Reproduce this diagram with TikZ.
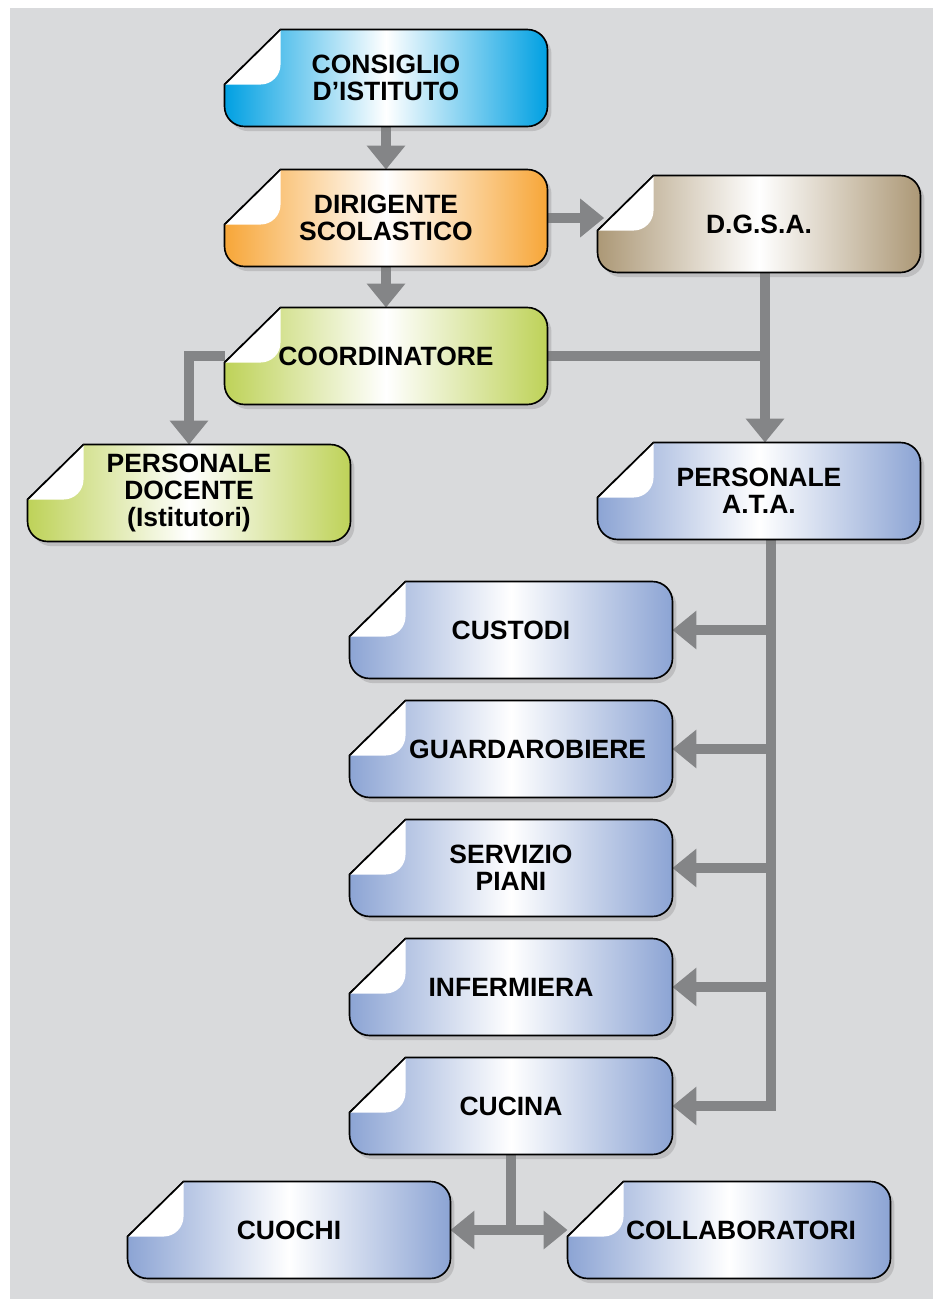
\documentclass[tikz,border=0pt]{standalone}
\usepackage{fontspec}
\setmainfont{Liberation Sans}
\usetikzlibrary{arrows.meta,calc,positioning,shadows}
\definecolor{orgblue}{RGB}{0,160,226}
\definecolor{orgorange}{RGB}{247,166,56}
\definecolor{orgtan}{RGB}{172,152,118}
\definecolor{orggreen}{RGB}{190,210,88}
\definecolor{orgperi}{RGB}{140,164,212}
\definecolor{orggray}{RGB}{132,133,135}
\definecolor{orgpaper}{RGB}{217,218,220}
\pgfdeclarelayer{bg}
\pgfdeclarelayer{lines}
\pgfdeclarelayer{boxes}
\pgfsetlayers{bg,lines,boxes,main}

\begin{document}
\begin{tikzpicture}[x=0.015cm, y=-0.015cm,
      orgbox/.style={minimum width=4.83cm, minimum height=1.44cm, inner sep=0pt, align=center, font=\bfseries\fontsize{11.3}{11.6}\selectfont},
      orgline/.style={draw=orggray, line width=0.15cm},
      orgarrow/.style={orgline, -{Triangle[width=0.56cm,length=0.36cm]}},
      orgshape/.style={draw=black, line width=0.7pt, drop shadow={shadow xshift=0.06cm, shadow yshift=-0.07cm, opacity=0.3}}
    ]
      \useasboundingbox (0,0) rectangle (933,1299);
      \begin{pgfonlayer}{bg}
        \fill[white] (0,0) rectangle (933,1299);
        \fill[orgpaper] (10,8) rectangle (933,1299);
      \end{pgfonlayer}

      % top of the chart
      \node[orgbox] (consiglio) at (386,78) {CONSIGLIO\\D’ISTITUTO};
      \node[orgbox] (dirigente) at (386,218) {DIRIGENTE\\SCOLASTICO};
      \node[orgbox] (dgsa) at (759,224) {D.G.S.A.};
      \node[orgbox] (coordinatore) at (386,356) {COORDINATORE};
      \node[orgbox] (docente) at (189,493) {PERSONALE\\DOCENTE\\(Istitutori)};
      \node[orgbox] (ata) at (759,491) {PERSONALE\\A.T.A.};

      % A.T.A. staff
      \node[orgbox] (custodi) at (511,630) {CUSTODI};
      \node[orgbox] (guardarobiere) at (511,749) {\hspace*{0.5cm}GUARDAROBIERE};
      \node[orgbox] (servizio) at (511,868) {SERVIZIO\\PIANI};
      \node[orgbox] (infermiera) at (511,987) {INFERMIERA};
      \node[orgbox] (cucina) at (511,1106) {CUCINA};
      \node[orgbox] (cuochi) at (289,1230) {CUOCHI};
      \node[orgbox] (collaboratori) at (729,1230) {\hspace*{0.36cm}COLLABORATORI};

      % boxes with the folded corner
      \begin{pgfonlayer}{boxes}
        \foreach \n/\col in {consiglio/orgblue, dirigente/orgorange, dgsa/orgtan, coordinatore/orggreen, docente/orggreen, ata/orgperi, custodi/orgperi, guardarobiere/orgperi, servizio/orgperi, infermiera/orgperi, cucina/orgperi, cuochi/orgperi, collaboratori/orgperi}{
          \path[orgshape, left color=\col, right color=\col, middle color=white]
            ([xshift=0.84cm]\n.north west) -- ([xshift=-0.3cm]\n.north east)
            arc[start angle=90, end angle=0, radius=0.3cm] -- ([yshift=0.3cm]\n.south east)
            arc[start angle=0, end angle=-90, radius=0.3cm] -- ([xshift=0.3cm]\n.south west)
            arc[start angle=270, end angle=180, radius=0.3cm] -- ([yshift=-0.825cm]\n.north west) -- cycle;
          \fill[white] ([xshift=0.84cm]\n.north west) -- ++(0,-0.525cm)
            arc[start angle=0, end angle=-90, radius=0.3cm] -- ([yshift=-0.825cm]\n.north west) -- cycle;
          \draw[line width=0.7pt] ([yshift=-0.825cm]\n.north west) -- ([xshift=0.84cm]\n.north west);
        }
      \end{pgfonlayer}

      % connectors
      \begin{pgfonlayer}{lines}
        \draw[orgarrow] (consiglio.south) -- (dirigente.north);
        \draw[orgarrow] (dirigente.east) -- ([xshift=0.1cm]dirigente.east -| dgsa.west);
        \draw[orgarrow] (dirigente.south) -- (coordinatore.north);
        \draw[orgarrow] (coordinatore.west) -| (docente.north);
        \coordinate (drop) at ([xshift=0.09cm]dgsa.south);
        \draw[orgline] (coordinatore.east) -- (coordinatore.east -| drop);
        \draw[orgarrow] (drop) -- (drop |- ata.north);
        \coordinate (trunk) at ([xshift=0.18cm]ata.south);
        \foreach \n in {custodi, guardarobiere, servizio, infermiera, cucina}
          \draw[orgarrow] (trunk) |- (\n.east);
        \coordinate (split) at (cucina.south |- cuochi.east);
        \draw[orgline] (cucina.south) -- (split);
        \draw[orgarrow] (split) -- (cuochi.east);
        \draw[orgarrow] (split) -- (collaboratori.west);
      \end{pgfonlayer}
    \end{tikzpicture}
\end{document}
